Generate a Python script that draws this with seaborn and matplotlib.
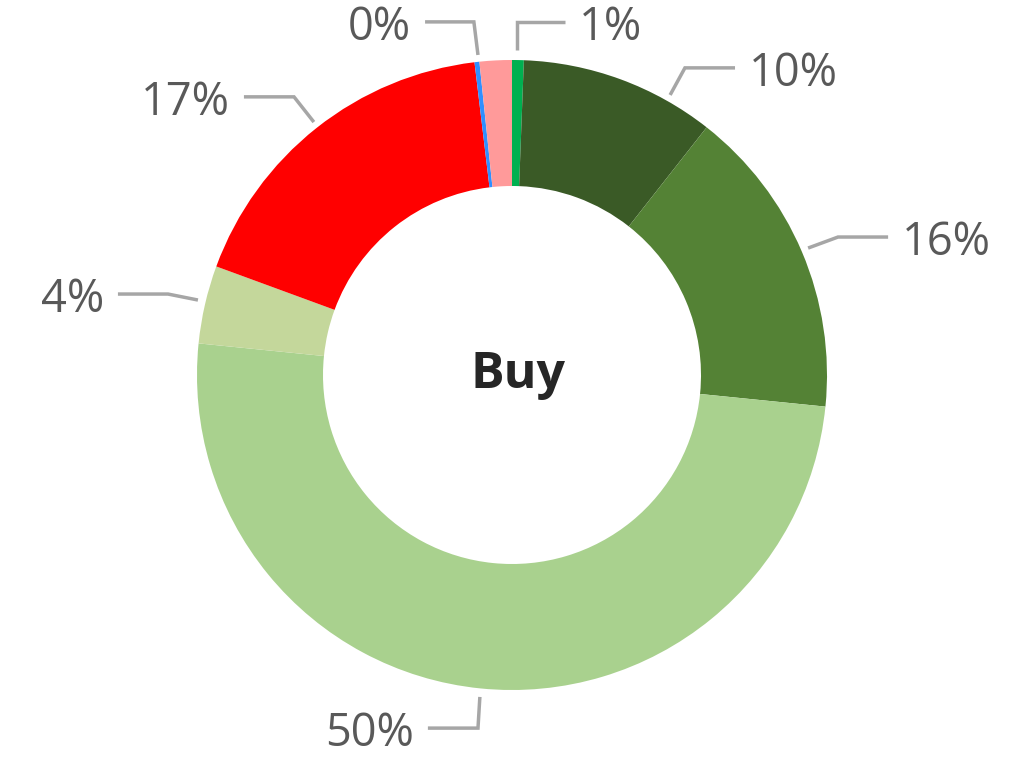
import matplotlib
matplotlib.use("Agg")
import matplotlib.pyplot as plt
import seaborn as sns

# data, clockwise from 12 o'clock
segments = ["A", "B", "C", "D", "E", "F", "G", "H"]
shares = [0.6, 10.0, 16.0, 50.0, 4.0, 17.5, 0.25, 1.65]
labels = ["1%", "10%", "16%", "50%", "4%", "17%", "0%", ""]
colors = ["#00b050", "#3a5a26", "#548235", "#a9d18e", "#c4d79b", "#ff0000", "#2f8fff", "#ff9a9a"]

# leader layout: anchor, elbow, end of horizontal stroke (data units, r=1 is outer edge)
leaders = {
    "1%": [(0.016, 1.032), (0.016, 1.121), (0.168, 1.121)],
    "10%": [(0.502, 0.889), (0.549, 0.975), (0.708, 0.975)],
    "16%": [(0.940, 0.403), (1.035, 0.438), (1.194, 0.438)],
    "50%": [(-0.102, -1.022), (-0.108, -1.121), (-0.267, -1.121)],
    "4%": [(-0.997, 0.238), (-1.092, 0.257), (-1.251, 0.257)],
    "17%": [(-0.629, 0.803), (-0.692, 0.883), (-0.851, 0.883)],
    "0%": [(-0.108, 1.016), (-0.121, 1.121), (-0.276, 1.121)],
}

sns.set_theme(style="white")
plt.rcParams['font.family'] = ['Open Sans', 'DejaVu Sans']

fig = plt.figure(figsize=(10.29, 7.6), dpi=100)
ax = fig.add_axes([0, 0, 1, 1])

ax.pie(shares, colors=colors, startangle=90, counterclock=False, radius=1.0,
       wedgeprops=dict(width=0.4, edgecolor="none", linewidth=0))

for lab in labels:
    if not lab:
        continue
    pts = leaders[lab]
    xs = [p[0] for p in pts]
    ys = [p[1] for p in pts]
    ax.plot(xs, ys, color="#a6a6a6", lw=2.5, solid_joinstyle="miter", solid_capstyle="butt")
    end_x, end_y = pts[-1]
    right = end_x > pts[1][0]
    ax.text(end_x + (0.045 if right else -0.045), end_y - 0.018, lab,
            ha="left" if right else "right", va="center",
            fontsize=32.5, color="#595959")

ax.text(0.02, -0.0, "Buy", ha="center", va="center", fontsize=36,
        fontweight="bold", color="#262626")

ax.set_xlim(-512 / 315, (1029 - 512) / 315)
ax.set_ylim(-(760 - 375) / 315, 375 / 315)
ax.set_aspect("equal")
ax.axis("off")

fig.savefig("out.png", dpi=100)
